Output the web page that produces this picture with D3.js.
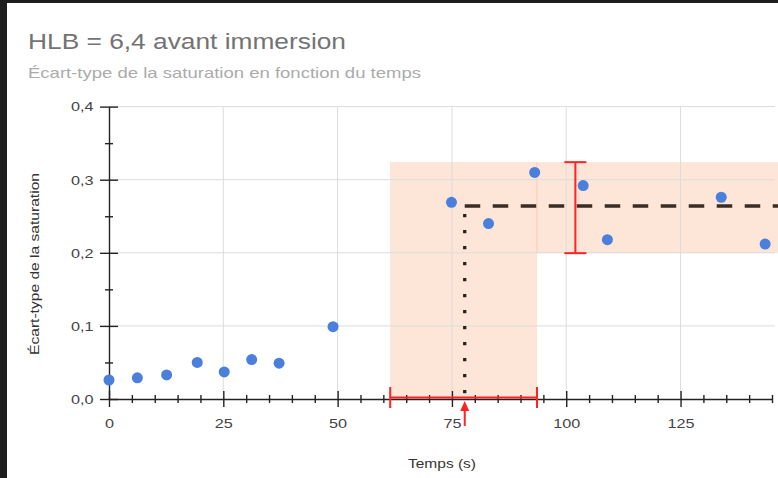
<!DOCTYPE html>
<html>
<head>
<meta charset="utf-8">
<script src="https://cdn.jsdelivr.net/npm/d3@7"></script>
<style>
  html, body { margin: 0; padding: 0; background: #1e1e1e; }
  svg { display: block; font-family: "Liberation Sans", Arial, sans-serif; }
  .grid line { stroke: #dcdcdc; stroke-width: 1; }
  .axis path, .axis line { stroke: #222; stroke-width: 1.4; }
  .axis text { fill: #444; font-size: 13.5px; }
</style>
</head>
<body>
<svg width="778" height="478"></svg>
<script>
const temps = [0, 6.2, 12.6, 19.3, 25.2, 31.2, 37.2, 49.0, 74.9, 83.0, 93.1, 103.7, 109.0, 133.9, 143.5];
const ecartType = [0.026, 0.029, 0.033, 0.050, 0.037, 0.054, 0.049, 0.099, 0.269, 0.240, 0.310, 0.292, 0.218, 0.276, 0.212];

// plateau : moyenne et intervalles
const tempsMoyen = 77.8;
const tempsIntervalle = [61.5, 93.6];
const satMoyenne = 0.264;
const satIntervalle = [0.1995, 0.324];

const xTicks = [0, 25, 50, 75, 100, 125];
const yTicks = [0, 0.1, 0.2, 0.3, 0.4];

const svg = d3.select("svg");
const W = 778, H = 478;

// cadre blanc (capture d'écran avec bord sombre)
svg.append("rect")
  .attr("x", 7).attr("y", 3)
  .attr("width", W - 7).attr("height", H - 3)
  .attr("fill", "#fff");

const x = d3.scaleLinear().domain([0, 145]).range([109, 772]);
const y = d3.scaleLinear().domain([0, 0.4]).range([399, 106.6]);
const fmt = d => d3.format(".1f")(d).replace(".", ",");

// le texte de la capture est plus large que Liberation Sans
function widen(sel, k) {
  sel.each(function() {
    const len = this.getComputedTextLength();
    if (len > 0) {
      d3.select(this)
        .attr("textLength", len * k)
        .attr("lengthAdjust", "spacingAndGlyphs");
    }
  });
}

svg.append("text")
  .attr("x", 28).attr("y", 48.5)
  .attr("font-size", 22.5)
  .attr("fill", "#737373")
  .attr("textLength", 318).attr("lengthAdjust", "spacingAndGlyphs")
  .text("HLB = 6,4 avant immersion");

svg.append("text")
  .attr("x", 28).attr("y", 78)
  .attr("font-size", 15)
  .attr("fill", "#ababab")
  .attr("textLength", 393).attr("lengthAdjust", "spacingAndGlyphs")
  .text("Écart-type de la saturation en fonction du temps");

// zones du plateau
const zones = svg.append("g").attr("class", "zones");
zones.append("rect")
  .attr("x", x(tempsIntervalle[0]))
  .attr("y", y(satIntervalle[1]))
  .attr("width", x(tempsIntervalle[1]) - x(tempsIntervalle[0]))
  .attr("height", y(0) - y(satIntervalle[1]))
  .attr("fill", "#fde5d7");
zones.append("rect")
  .attr("x", x(tempsIntervalle[0]))
  .attr("y", y(satIntervalle[1]))
  .attr("width", W - x(tempsIntervalle[0]))
  .attr("height", y(satIntervalle[0]) - y(satIntervalle[1]))
  .attr("fill", "#fde5d7");
zones.append("line")
  .attr("x1", x(tempsIntervalle[1])).attr("x2", x(tempsIntervalle[1]))
  .attr("y1", y(satIntervalle[1])).attr("y2", y(satIntervalle[0]))
  .attr("stroke", "#f8cdb3").attr("stroke-width", 1);

// grille
const grid = svg.append("g").attr("class", "grid");
grid.selectAll(".gx")
  .data(xTicks.filter(d => d > 0))
  .enter().append("line")
  .attr("x1", d => x(d)).attr("x2", d => x(d))
  .attr("y1", y(0.4)).attr("y2", y(0));
grid.selectAll(".gy")
  .data(yTicks.filter(d => d > 0))
  .enter().append("line")
  .attr("x1", x(0)).attr("x2", 775)
  .attr("y1", d => y(d)).attr("y2", d => y(d));

// axes
const xAxis = svg.append("g")
  .attr("class", "axis")
  .attr("transform", `translate(0,${y(0)})`)
  .call(d3.axisBottom(x).tickValues(d3.range(0, 146, 5)).tickSize(4).tickSizeOuter(0).tickFormat(d => d % 25 === 0 ? d : ""));
xAxis.selectAll(".tick line")
  .attr("y1", d => d % 25 === 0 ? -8 : -4)
  .attr("y2", d => d % 25 === 0 ? 8 : 4);
xAxis.selectAll(".tick text").attr("y", 19);
widen(xAxis.selectAll(".tick text"), 1.2);

const yAxis = svg.append("g")
  .attr("class", "axis")
  .attr("transform", `translate(${x(0)},0)`)
  .call(d3.axisLeft(y).tickValues(d3.range(0, 0.41, 0.05)).tickSize(4).tickSizeOuter(0)
    .tickFormat(d => Math.round(d * 100) % 10 === 0 ? fmt(d) : ""));
yAxis.selectAll(".tick line")
  .attr("x1", d => Math.round(d * 100) % 10 === 0 ? -9 : -4)
  .attr("x2", d => Math.round(d * 100) % 10 === 0 ? 9 : 4);
yAxis.selectAll(".tick text").attr("x", -15.5);
widen(yAxis.selectAll(".tick text"), 1.2);

svg.append("text")
  .attr("transform", `translate(39,264) rotate(-90)`)
  .attr("text-anchor", "middle")
  .attr("font-size", 12.5)
  .attr("fill", "#333")
  .attr("textLength", 182).attr("lengthAdjust", "spacingAndGlyphs")
  .text("Écart-type de la saturation");

svg.append("text")
  .attr("x", 442).attr("y", 468)
  .attr("text-anchor", "middle")
  .attr("font-size", 13.5)
  .attr("fill", "#333")
  .attr("textLength", 68).attr("lengthAdjust", "spacingAndGlyphs")
  .text("Temps (s)");

// moyenne et repères
svg.append("line")
  .attr("x1", x(tempsMoyen)).attr("x2", W)
  .attr("y1", y(satMoyenne)).attr("y2", y(satMoyenne))
  .attr("stroke", "#3a2c25").attr("stroke-width", 3.5)
  .attr("stroke-dasharray", "15.5,12.5");

svg.append("line")
  .attr("x1", x(tempsMoyen)).attr("x2", x(tempsMoyen))
  .attr("y1", y(satMoyenne) + 8).attr("y2", y(0) - 2)
  .attr("stroke", "#222").attr("stroke-width", 3.3)
  .attr("stroke-dasharray", "3.3,12.7");

const red = "#ff2222";
const errY = svg.append("g").attr("stroke", red).attr("stroke-width", 2);
const ex = x(102.0);
errY.append("line").attr("x1", ex).attr("x2", ex).attr("y1", y(satIntervalle[1])).attr("y2", y(satIntervalle[0]));
errY.append("line").attr("x1", ex - 11).attr("x2", ex + 11).attr("y1", y(satIntervalle[1])).attr("y2", y(satIntervalle[1]));
errY.append("line").attr("x1", ex - 11).attr("x2", ex + 11).attr("y1", y(satIntervalle[0])).attr("y2", y(satIntervalle[0]));

const errX = svg.append("g").attr("stroke", red).attr("stroke-width", 2);
errX.append("line").attr("x1", x(tempsIntervalle[0])).attr("x2", x(tempsIntervalle[1])).attr("y1", y(0) - 1.5).attr("y2", y(0) - 1.5);
tempsIntervalle.forEach(t => {
  errX.append("line").attr("x1", x(t)).attr("x2", x(t)).attr("y1", y(0) - 12).attr("y2", y(0) + 9);
});

const ax = x(tempsMoyen);
svg.append("line")
  .attr("x1", ax).attr("x2", ax).attr("y1", y(0) + 10).attr("y2", y(0) + 27)
  .attr("stroke", red).attr("stroke-width", 2);
svg.append("path")
  .attr("d", `M${ax},${y(0) + 2}L${ax - 4.5},${y(0) + 12}L${ax + 4.5},${y(0) + 12}Z`)
  .attr("fill", red);

// points
svg.append("g")
  .selectAll("circle")
  .data(temps.map((t, i) => ({ t, v: ecartType[i] })))
  .enter().append("circle")
  .attr("cx", d => x(d.t))
  .attr("cy", d => y(d.v))
  .attr("r", 5.5)
  .attr("fill", "#4a7fdc");
</script>
</body>
</html>
